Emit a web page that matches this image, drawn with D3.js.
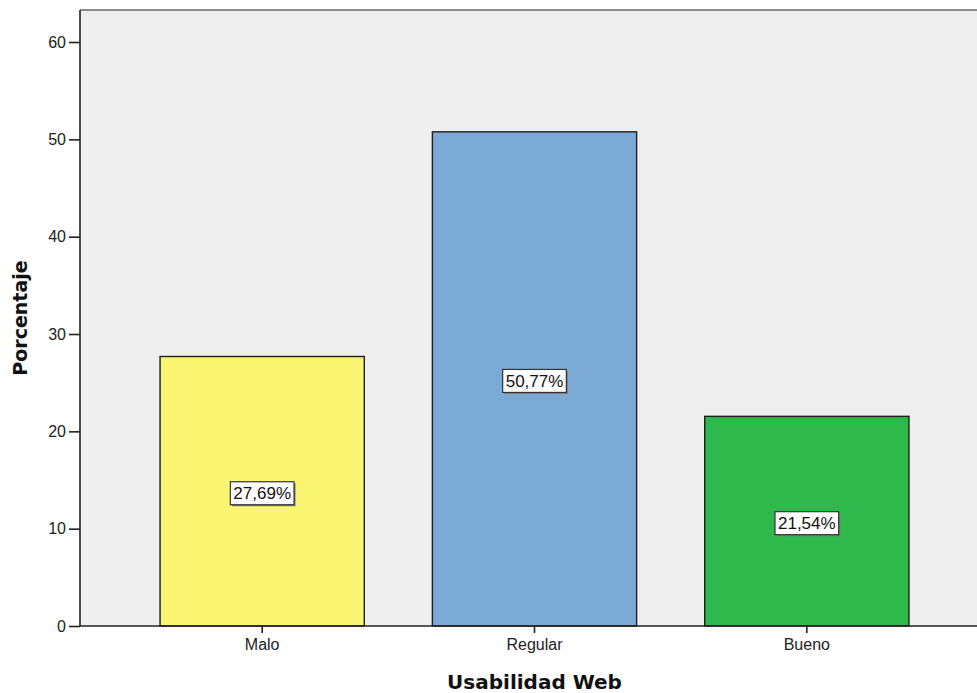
<!DOCTYPE html>
<html>
<head>
<meta charset="utf-8">
<script src="https://cdn.jsdelivr.net/npm/d3@7/dist/d3.min.js"></script>
<style>
  html, body { margin: 0; padding: 0; background: #ffffff; overflow: hidden; }
  svg { display: block; }
</style>
</head>
<body>
<svg id="chart" width="977" height="693"></svg>
<script>
// Usabilidad Web — percentage distribution
const categories = ["Malo", "Regular", "Bueno"];
const percentages = [27.69, 50.77, 21.54];
const barColors = ["#FAF671", "#7BAAD7", "#2FB84B"];
const yTicks = [0, 10, 20, 30, 40, 50, 60];
const xTitle = "Usabilidad Web";
const yTitle = "Porcentaje";

const width = 977, height = 693;
const plot = { left: 80, top: 10, right: 989, bottom: 626 };

const svg = d3.select("#chart");

const x = d3.scaleBand()
  .domain(categories)
  .range([plot.left, plot.right])
  .paddingInner(0.25)
  .paddingOuter(0.294);

const y = d3.scaleLinear()
  .domain([0, 60])
  .range([plot.bottom, plot.bottom - 60 * 9.733]);

// plot background
svg.append("rect")
  .attr("x", plot.left)
  .attr("y", plot.top)
  .attr("width", width - plot.left)
  .attr("height", plot.bottom - plot.top)
  .attr("fill", "#EFEFEF");

// top frame line
svg.append("line")
  .attr("x1", plot.left).attr("x2", width)
  .attr("y1", plot.top).attr("y2", plot.top)
  .attr("stroke", "#8C8C8C").attr("stroke-width", 2);

// bars
svg.append("g").selectAll("rect")
  .data(categories)
  .join("rect")
  .attr("x", d => x(d))
  .attr("y", (d, i) => y(percentages[i]))
  .attr("width", x.bandwidth())
  .attr("height", (d, i) => y(0) - y(percentages[i]))
  .attr("fill", (d, i) => barColors[i])
  .attr("stroke", "#1e1e1e")
  .attr("stroke-width", 1.4);

// y axis
const yAxis = d3.axisLeft(y)
  .tickValues(yTicks)
  .tickSize(11)
  .tickPadding(3)
  .tickFormat(d3.format("d"));
const gy = svg.append("g")
  .attr("transform", `translate(${plot.left},0)`)
  .call(yAxis);
gy.select(".domain").attr("stroke", "#222").attr("stroke-width", 1.6)
  .attr("d", `M0,${plot.top}V${plot.bottom}`);
gy.selectAll(".tick line").attr("stroke", "#222").attr("stroke-width", 1.6);
gy.selectAll(".tick text")
  .attr("fill", "#222")
  .style("font-family", "'Liberation Sans', Arial, sans-serif")
  .style("font-size", "16px");

// x axis
const xAxis = d3.axisBottom(x)
  .tickSize(7)
  .tickPadding(6);
const gx = svg.append("g")
  .attr("transform", `translate(0,${plot.bottom})`)
  .call(xAxis);
gx.select(".domain").attr("stroke", "#222").attr("stroke-width", 1.6)
  .attr("d", `M${plot.left},0H${width}`);
gx.selectAll(".tick line").attr("stroke", "#222").attr("stroke-width", 1.6);
gx.selectAll(".tick text")
  .attr("fill", "#222")
  .style("font-family", "'Liberation Sans', Arial, sans-serif")
  .style("font-size", "16px");

// value labels in the middle of each bar
const labelFmt = v => d3.format(".2f")(v).replace(".", ",") + "%";
const labels = svg.append("g").selectAll("g")
  .data(categories)
  .join("g")
  .attr("transform", (d, i) => `translate(${x(d) + x.bandwidth() / 2},${y(percentages[i] / 2) + 2})`);

labels.each(function(d, i) {
  const g = d3.select(this);
  const t = g.append("text")
    .attr("text-anchor", "middle")
    .attr("dy", "0.36em")
    .attr("fill", "#111")
    .style("font-family", "'Liberation Sans', Arial, sans-serif")
    .style("font-size", "17px")
    .text(labelFmt(percentages[i]));
  const bb = t.node().getBBox();
  const w = bb.width + 6, h = 23;
  g.insert("rect", "text")
    .attr("x", -w / 2 + 1.5).attr("y", -h / 2 + 1.5)
    .attr("width", w).attr("height", h)
    .attr("fill", "#7a7a7a");
  g.insert("rect", "text")
    .attr("x", -w / 2).attr("y", -h / 2)
    .attr("width", w).attr("height", h)
    .attr("fill", "#ffffff")
    .attr("stroke", "#333")
    .attr("stroke-width", 1.2);
});

// axis titles
svg.append("text")
  .attr("x", x("Regular") + x.bandwidth() / 2)
  .attr("y", 689)
  .attr("text-anchor", "middle")
  .attr("fill", "#111")
  .style("font-family", "'DejaVu Sans', Verdana, sans-serif")
  .style("font-weight", "bold")
  .style("font-size", "20px")
  .text(xTitle);

svg.append("text")
  .attr("transform", `translate(27,${(plot.top + plot.bottom) / 2}) rotate(-90)`)
  .attr("text-anchor", "middle")
  .attr("fill", "#111")
  .style("font-family", "'DejaVu Sans', Verdana, sans-serif")
  .style("font-weight", "bold")
  .style("font-size", "19px")
  .text(yTitle);
</script>
</body>
</html>
